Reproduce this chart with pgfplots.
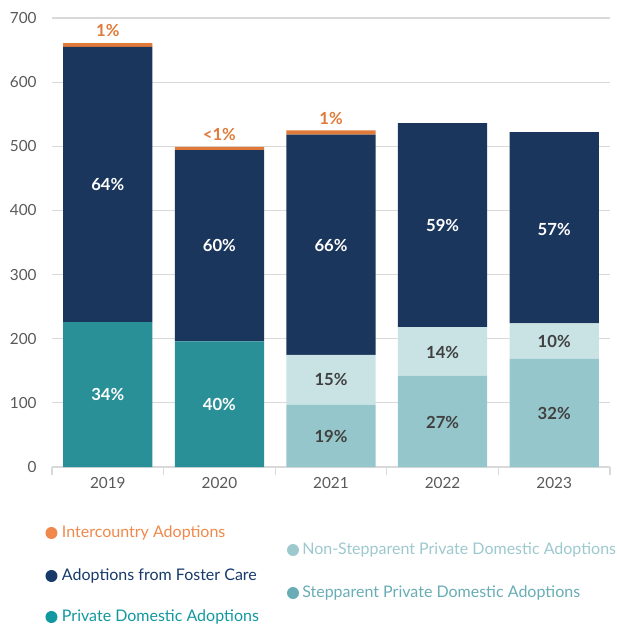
\documentclass[border=0pt]{standalone}
\usepackage{fontspec}
\setmainfont{Lato}
\usepackage{pgfplots}
\pgfplotsset{compat=1.18}

\definecolor{foster}{HTML}{1B365D}
\definecolor{privdom}{HTML}{2A9097}
\definecolor{step}{HTML}{95C6CB}
\definecolor{nonstep}{HTML}{C9E3E5}
\definecolor{inter}{HTML}{E07A3A}
\definecolor{ticktxt}{HTML}{595959}
\definecolor{gridc}{HTML}{D9D9D9}
\definecolor{lblgray}{HTML}{404040}
\definecolor{leginter}{HTML}{F0884C}
\definecolor{legfoster}{HTML}{173A6A}
\definecolor{legpriv}{HTML}{12989F}
\definecolor{legnon}{HTML}{9CC8CE}
\definecolor{legstep}{HTML}{68ADB5}

% x: 0..4 = 2019..2023
\pgfplotstableread{
x  priv step nonstep foster inter
0  226  0    0       429    6
1  196  0    0       298    5
2  0    97   78      343    7
3  0    142  76      318    0
4  0    169  55      298    0
}\adoptions

\pgfplotstableread{
x  y    lbl
0  113  34\%
1  98   40\%
0  441  64\%
1  345  60\%
2  345  66\%
3  376  59\%
4  371  57\%
}\whitelbl

\pgfplotstableread{
x  y    lbl
2  47   19\%
3  69   27\%
4  84   32\%
2  136  15\%
3  179  14\%
4  195  10\%
}\darklbl

\pgfplotstableread{
x  y    lbl
0  661  1\%
1  499  <1\%
2  525  1\%
}\toplbl

\begin{document}
\begin{tikzpicture}
\pgfplotsset{
  base/.style={
    scale only axis, width=418.5pt, height=336.75pt,
    xmin=-0.5, xmax=4.5, ymin=0, ymax=700,
    /pgf/number format/assume math mode=true,
  },
}
\begin{axis}[base,
  ybar stacked, bar width=0.8,
  axis x line*=bottom, axis y line*=left,
  x axis line style={gridc, line width=0.8pt},
  y axis line style={draw=none},
  xtick={-0.5,0.5,...,4.5}, xticklabels={},
  x tick style={gridc, line width=0.8pt},
  tick align=outside, major tick length=6pt,
  extra x ticks={0,...,4}, extra x tick labels={2019,2020,2021,2022,2023},
  extra x tick style={major tick length=0pt},
  ytick={0,100,...,700},
  y tick style={draw=none},
  ymajorgrids, grid style={gridc, line width=0.8pt},
  yticklabel style={font=\fontsize{11.5}{13}\selectfont, text=ticktxt, xshift=-2pt},
  xticklabel style={font=\fontsize{11.5}{13}\selectfont, text=ticktxt, yshift=-4pt},
  every axis plot/.append style={draw=none},
]
\addplot[fill=privdom] table[x=x, y=priv] {\adoptions};
\addplot[fill=step] table[x=x, y=step] {\adoptions};
\addplot[fill=nonstep] table[x=x, y=nonstep] {\adoptions};
\addplot[fill=foster] table[x=x, y=foster] {\adoptions};
\addplot[fill=inter] table[x=x, y=inter] {\adoptions};
\end{axis}

\begin{axis}[base, hide axis,
  nodes near coords={\pgfplotspointmeta},
  point meta=explicit symbolic,
  every node near coord/.append style={font=\bfseries\fontsize{12.5}{14}\selectfont},
]
\addplot[only marks, mark=none, nodes near coords style={anchor=center, text=white}]
  table[x=x, y=y, meta=lbl] {\whitelbl};
\addplot[only marks, mark=none, nodes near coords style={anchor=center, text=lblgray}]
  table[x=x, y=y, meta=lbl] {\darklbl};
\addplot[only marks, mark=none, nodes near coords style={anchor=south, text=inter, yshift=1pt}]
  table[x=x, y=y, meta=lbl] {\toplbl};
\end{axis}

% legend
\begin{scope}[font=\fontsize{12}{14}\selectfont]
\fill[leginter] (-0.4pt,-49.5pt) circle (4.5pt);
\node[anchor=west, text=leginter, inner sep=0pt] at (7.3pt,-49.5pt) {Intercountry Adoptions};
\fill[legfoster] (-0.4pt,-81.75pt) circle (4.5pt);
\node[anchor=west, text=legfoster, inner sep=0pt] at (7.3pt,-81.75pt) {Adoptions from Foster Care};
\fill[legpriv] (-0.4pt,-112.5pt) circle (4.5pt);
\node[anchor=west, text=legpriv, inner sep=0pt] at (7.3pt,-112.5pt) {Private Domestic Adoptions};
\fill[legnon] (180.75pt,-62.25pt) circle (4.5pt);
\node[anchor=west, text=legnon, inner sep=0pt] at (187.5pt,-62.25pt) {Non-Stepparent Private Domestic Adoptions};
\fill[legstep] (180.75pt,-94.5pt) circle (4.5pt);
\node[anchor=west, text=legstep, inner sep=0pt] at (187.5pt,-94.5pt) {Stepparent Private Domestic Adoptions};
\end{scope}
\path[use as bounding box] (-39pt,-119.25pt) rectangle (423.75pt,350.25pt);
\end{tikzpicture}
\end{document}
